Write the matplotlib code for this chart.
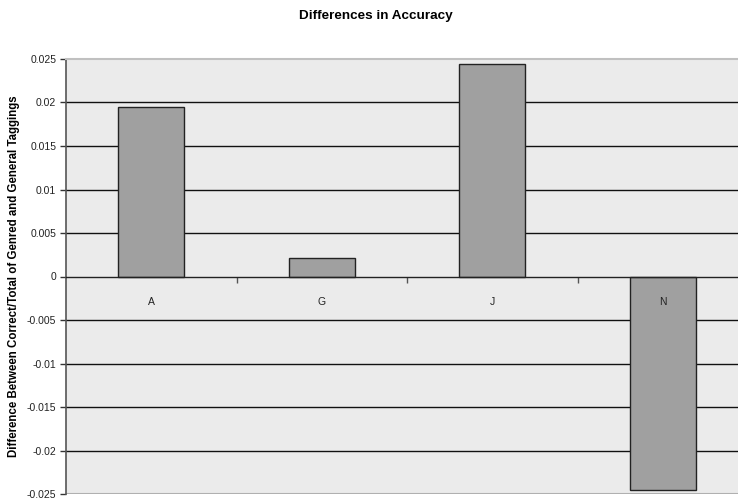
import matplotlib
matplotlib.use("Agg")
import matplotlib.pyplot as plt

categories = ["A", "G", "J", "N"]
values = [0.0195, 0.0021, 0.0244, -0.0245]
yticks = [-0.025, -0.02, -0.015, -0.01, -0.005, 0, 0.005, 0.01, 0.015, 0.02, 0.025]
ytick_labels = ["-0.025", "-0.02", "-0.015", "-0.01", "-0.005", "0", "0.005", "0.01", "0.015", "0.02", "0.025"]

plt.rcParams['font.family'] = ['Liberation Sans', 'DejaVu Sans']

fig = plt.figure(figsize=(7.38, 4.98), dpi=100)
fig.patch.set_facecolor('white')
ax = fig.add_axes([66/738, 4/498, (748-66)/738, (494-59)/498])
ax.set_facecolor('#EBEBEB')

x = list(range(len(categories)))
ax.bar(x, values, width=0.39, color='#A0A0A0', edgecolor='#222222', linewidth=1.0, zorder=1)

for t in yticks:
    if t not in (0, -0.025, 0.025):
        ax.axhline(t, color='#111111', linewidth=1.0, zorder=0.5)

ax.set_xlim(-0.5, len(categories) - 0.5)
ax.set_ylim(-0.025, 0.025)

ax.set_yticks(yticks)
ax.set_yticklabels(ytick_labels, fontsize=7.5, color='#222222')
ax.tick_params(axis='y', direction='out', length=4, width=1, color='#333333', pad=3)

ax.spines['bottom'].set_position(('data', 0))
ax.spines['bottom'].set_color('#222222')
ax.spines['bottom'].set_linewidth(1.0)
ax.spines['left'].set_color('#555555')
ax.spines['left'].set_linewidth(1.2)
ax.spines['top'].set_color('#C0C0C0')
ax.spines['top'].set_linewidth(1.5)
ax.spines['right'].set_visible(False)
ax.axhline(-0.025, color='#B0B0B0', linewidth=1.5, zorder=0.5)

ax.set_xticks([i + 0.5 for i in x[:-1]])
ax.set_xticklabels([])
ax.tick_params(axis='x', which='major', direction='out', length=4, width=1, color='#555555')
ax.set_xticks(x, minor=True)
ax.set_xticklabels(categories, minor=True, fontsize=7.5, color='#222222')
ax.tick_params(axis='x', which='minor', length=0, pad=15)

ax.set_ylabel("Difference Between Correct/Total of Genred and General Taggings",
              fontsize=8.3, fontweight='bold')
ax.yaxis.set_label_coords(-(66 - 20) / (748 - 66), 0.5)
fig.text(376/738, 1 - 16/498, "Differences in Accuracy", ha='center', va='center',
         fontsize=9.7, fontweight='bold')

fig.savefig("out.png", dpi=100)
